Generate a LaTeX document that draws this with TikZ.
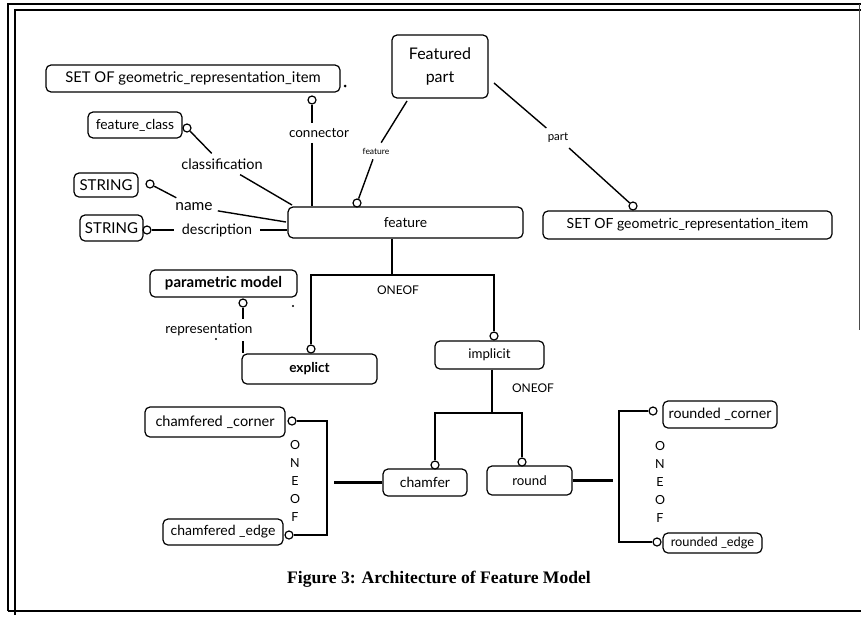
\documentclass[tikz,border=0pt]{standalone}
\usepackage{fontspec}
\setmainfont{Lato}
\newfontfamily\capfont{Liberation Serif}
\newcommand\myfs[1]{\fontsize{#1}{#1}\selectfont}
\begin{document}
\begin{tikzpicture}[x=1pt,y=-1pt,
  box/.style={draw, rounded corners=5pt, line width=1.2pt, inner sep=0pt, align=center},
  circ/.style={circle, draw, fill=white, line width=1.2pt, minimum size=8pt, inner sep=0pt},
  conn/.style={line width=1.4pt},
  oneof/.style={line width=2.2pt},
  lab/.style={inner sep=5pt},
  frame/.style={line width=1.5pt}
]
\useasboundingbox (0,0) rectangle (861,616);
% frame
\draw[frame] (8,611) -- (8,4) -- (861,4);
\draw[frame] (15,615) -- (15,10) -- (861,10);
\draw[frame] (8,611) -- (861,611);
\draw[line width=1pt, black!70] (859,4) -- (859,330);

% boxes
\node[box, minimum width=294pt, minimum height=27pt, font=\myfs{14.8}] (set1) at (193,78.5) {SET OF geometric\_representation\_item};
\node[box, minimum width=96pt, minimum height=63pt, font=\fontsize{16}{23}\selectfont] (fpart) at (440,66.5) {Featured\\part};
\node[box, minimum width=289pt, minimum height=28pt, font=\myfs{14}] (set2) at (687.5,225) {SET OF geometric\_representation\_item};
\node[box, minimum width=235pt, minimum height=31pt, font=\myfs{13.8}] (feature) at (405.5,222.5) {feature};
\node[box, minimum width=94pt, minimum height=26pt, font=\myfs{13.8}] (fclass) at (135,125) {feature\_class};
\node[box, minimum width=64pt, minimum height=24pt, font=\myfs{15}] (str1) at (106,185) {STRING};
\node[box, minimum width=63pt, minimum height=26pt, font=\myfs{15}] (str2) at (111.5,228) {STRING};
\node[box, minimum width=147pt, minimum height=27pt, font=\bfseries\myfs{15}] (param) at (223.5,283.5) {parametric model};
\node[box, minimum width=135pt, minimum height=30pt, font=\bfseries\myfs{13.6}] (expl) at (309.5,369) {explict};
\node[box, minimum width=109pt, minimum height=28pt, font=\myfs{13.3}] (impl) at (489.5,355) {implicit};
\node[box, minimum width=84pt, minimum height=27pt, font=\myfs{14}] (chamfer) at (425,482.5) {chamfer};
\node[box, minimum width=85pt, minimum height=29pt, font=\myfs{13.3}] (round) at (529.5,480.5) {round};
\node[box, minimum width=140pt, minimum height=30pt, font=\myfs{14.5}] (ccorner) at (215,422) {chamfered \_corner};
\node[box, minimum width=120pt, minimum height=26pt, font=\myfs{14}] (cedge) at (223,532) {chamfered \_edge};
\node[box, minimum width=114pt, minimum height=27pt, font=\myfs{14.2}] (rcorner) at (720,414.5) {rounded \_corner};
\node[box, minimum width=99pt, minimum height=20pt, font=\myfs{12.8}] (redge) at (712.5,543) {rounded \_edge};

% circles
\node[circ] (cset1) at (312,100) {};
\node[circ] (cfeat) at (357,203) {};
\node[circ] (cset2) at (633,206) {};
\node[circ] (cfc) at (187,128) {};
\node[circ] (cs1) at (150,184) {};
\node[circ] (cs2) at (147,230) {};
\node[circ] (cpm) at (243,303) {};
\node[circ] (cexp) at (311,349) {};
\node[circ] (cimp) at (494,336) {};
\node[circ] (cch) at (435,465) {};
\node[circ] (cro) at (522,462) {};
\node[circ] (ccc) at (292,421) {};
\node[circ] (cce) at (289,535) {};
\node[circ] (crc) at (653,411) {};
\node[circ] (cre) at (657,542) {};

% labels
\node[lab, font=\myfs{13.5}] (lconn) at (319,133) {connector};
\node[lab, font=\myfs{8.5}] (lfeat) at (376,151) {feature};
\node[lab, font=\myfs{11.5}] (lpart) at (558,138) {part};
\node[lab, font=\myfs{14.5}] (lclass) at (222,164) {classification};
\node[lab, font=\myfs{15.5}] (lname) at (194,207) {name};
\node[lab, inner xsep=8pt, font=\myfs{14.3}] (ldesc) at (217,230) {description};
\node[lab, font=\myfs{13.6}] (lrep) at (209,330) {representation};
\node[font=\myfs{12}] (lone1) at (398,290) {ONEOF};
\node[font=\myfs{12}] (lone2) at (533,388) {ONEOF};
\node[font=\fontsize{12.5}{18}\selectfont, align=center] (vone1) at (295,481) {O\\N\\E\\O\\F};
\node[font=\fontsize{12.5}{18}\selectfont, align=center] (vone2) at (660,482) {O\\N\\E\\O\\F};
\node[font=\capfont\bfseries\myfs{17.6}] (cap) at (439,579) {Figure 3: Architecture of Feature Model};

% coordinates
\coordinate (fpa) at (407,101);
\coordinate (fpb) at (494,83);
\coordinate (fnw) at (292,205);
\coordinate (fw1) at (286,222);
\coordinate (j1) at (392,275);
\coordinate (j2) at (492,413);
\coordinate (j3) at (327,482);
\coordinate (j3b) at (334,482);
\coordinate (j4) at (619,481);
\coordinate (j4b) at (613,481);

% connectors
\draw[conn] (cset1) -- (cset1 |- lconn.north);
\draw[conn] (cset1 |- lconn.south) -- (cset1 |- feature.north);
\draw[conn] (cfeat) -- (lfeat) -- (fpa);
\draw[conn] (fpb) -- (lpart) -- (cset2);
\draw[conn] (cfc) -- (lclass) -- (fnw);
\draw[conn] (cs1) -- (lname) -- (fw1);
\draw[conn] (cs2) -- (ldesc) -- (feature.west |- ldesc);
\draw[conn] (cpm) -- (cpm |- lrep.north);
\draw[conn] (cpm |- lrep.south) -- (cpm |- expl.north);

\draw[oneof] (j1 |- feature.south) -- (j1);
\draw[oneof] (cexp) -- (cexp |- j1) -- (cimp |- j1) -- (cimp);
\draw[oneof] (j2 |- impl.south) -- (j2);
\draw[oneof] (cch) -- (cch |- j2) -- (cro |- j2) -- (cro);
\draw[oneof] (ccc) -- (j3 |- ccc) -- (j3 |- cce) -- (cce);
\draw[oneof] (chamfer.west) -- (chamfer.west -| j3b);
\draw[oneof] (crc) -- (j4 |- crc) -- (j4 |- cre) -- (cre);
\draw[oneof] (round.east) -- (round.east -| j4b);

% stray marks
\fill (345,86) circle (1.5);
\fill (293,306) circle (1.2);
\fill (216,339) circle (1.2);
\end{tikzpicture}
\end{document}
